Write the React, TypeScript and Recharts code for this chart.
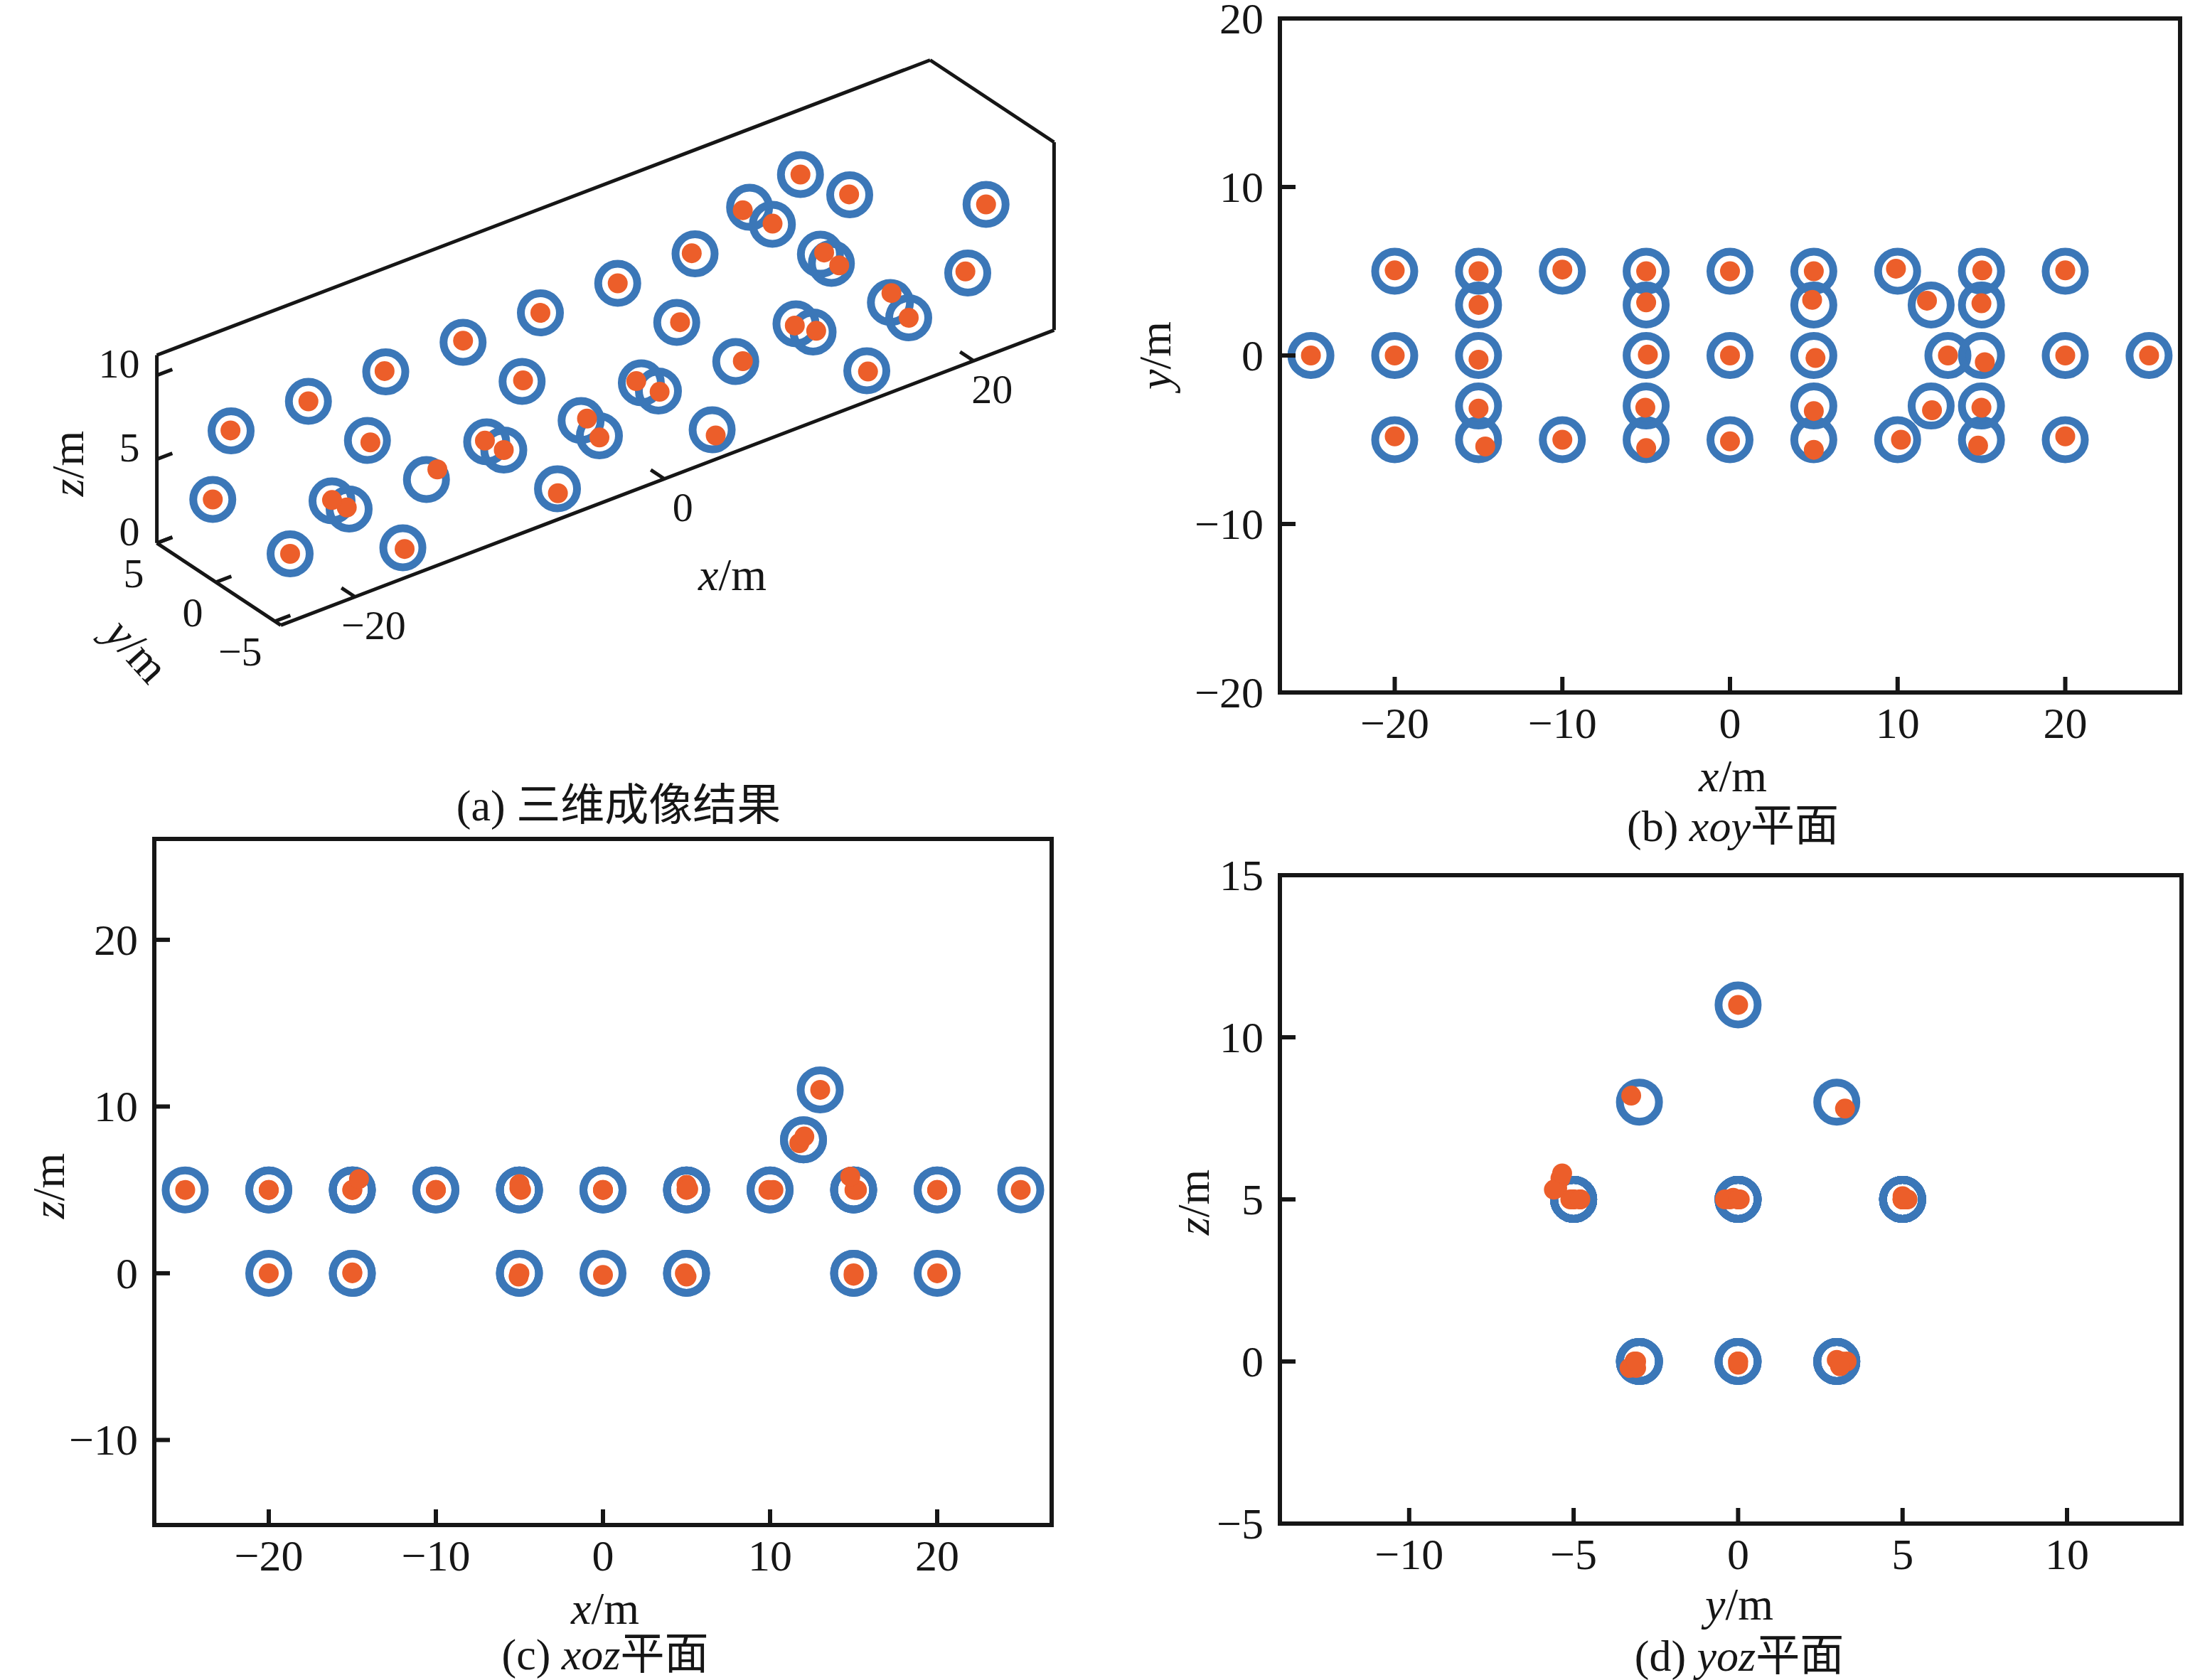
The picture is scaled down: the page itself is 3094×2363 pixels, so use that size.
import React from 'react';
import { ReferenceArea, ReferenceDot, ReferenceLine, Scatter, ScatterChart, XAxis, YAxis } from 'recharts';

// true scatterer positions (blue rings), metres
const TRUE_X = [-25, -20, -20, -20, -15, -15, -15, -15, -15, -10, -10, -5, -5, -5, -5, -5, 0, 0, 0, 5, 5, 5, 5, 5, 10, 10, 12, 12, 13, 15, 15, 15, 15, 15, 20, 20, 20, 25];
const TRUE_Y = [0, 5, -5, 0, 5, 0, -5, 3, -3, 5, -5, 5, 0, -5, 3, -3, 5, -5, 0, 5, -5, 0, 3, -3, 5, -5, 3, -3, 0, 5, 0, -5, 3, -3, 5, -5, 0, 0];
const TRUE_Z = [5, 5, 5, 0, 5, 5, 5, 0, 0, 5, 5, 5, 5, 5, 0, 0, 5, 5, 0, 5, 5, 5, 0, 0, 5, 5, 8, 8, 11, 5, 5, 5, 0, 0, 5, 5, 0, 5];

// imaged positions (orange dots)
const EST_X = [-25, -20, -20, -20, -15, -15, -14.6, -15, -15, -10, -10, -5, -4.9, -5, -5, -5.05, 0, 0, 0, 5, 5, 5.1, 4.9, 5, 9.9, 10.2, 11.75, 12.05, 13, 15.05, 15.2, 14.8, 15, 15, 20, 20, 20, 25];
const EST_Y = [0, 5.05, -4.8, 0, 5, -0.25, -5.4, 3, -3.15, 5.1, -5, 5, 0.05, -5.5, 3.15, -3.1, 5, -5.1, 0, 5, -5.6, -0.15, 3.3, -3.3, 5.15, -5, 3.25, -3.25, 0, 5.05, -0.4, -5.35, 3.1, -3.1, 5.05, -4.8, 0, 0];
const EST_Z = [5, 5, 5, 0, 5, 5, 5.65, 0.05, 0, 5, 5, 5.1, 5, 5.35, 0, -0.2, 5, 5, -0.1, 5, 5.3, 5.05, 0, -0.2, 5, 5, 7.8, 8.2, 11, 5, 5, 5.8, -0.15, 0, 5, 5, 0, 5];

const X_TICKS = [-20, -10, 0, 10, 20];
const XOY_Y_TICKS = [-20, -10, 0, 10, 20];
const XOZ_Z_TICKS = [-10, 0, 10, 20];
const YOZ_Y_TICKS = [-10, -5, 0, 5, 10];
const YOZ_Z_TICKS = [-5, 0, 5, 10, 15];

const CUBE_X_TICKS = [-20, 0, 20];
const CUBE_Y_TICKS = [5, 0, -5];
const CUBE_Z_TICKS = [0, 5, 10];
const CUBE_X = [-24.8, 25.2];
const CUBE_Y = [-5.5, 5];
const CUBE_Z = [0, 11.2];

const BLUE = '#3b77b8';
const ORANGE = '#ec5e2a';
const INK = '#161616';
const SERIF = '"Liberation Serif", "Times New Roman", "Noto Sans CJK SC", serif';
const TICK_FONT = 62;
const CUBE_TICK_FONT = 58;
const LABEL_FONT = 64;
const CAPTION_FONT = 62;
const TICK_LEN = 22;

const targets = TRUE_X.map((x, i) => ({ x, y: TRUE_Y[i], z: TRUE_Z[i] }));
const results = EST_X.map((x, i) => ({ x, y: EST_Y[i], z: EST_Z[i] }));

const minus = (v: number) => String(v).replace('-', '\u2212');

const ring = (p: any) => <circle cx={p.cx} cy={p.cy} r={27.5} fill="none" stroke={BLUE} strokeWidth={11} />;
const dot = (p: any) => <circle cx={p.cx} cy={p.cy} r={14} fill={ORANGE} />;

const PAD_L = 170;
const PAD_T = 60;
const PAD_R = 40;
const PAD_B = 110;
const AXIS_W = 160;
const AXIS_H = 100;

function XTick(p: any) {
  return (
    <g>
      <line x1={p.x} y1={p.y} x2={p.x} y2={p.y - TICK_LEN} stroke={INK} strokeWidth={6} />
      <text x={p.x} y={p.y + 43} textAnchor="middle" dominantBaseline="central" fontSize={TICK_FONT} fontFamily={SERIF} fill={INK}>
        {minus(p.payload.value)}
      </text>
    </g>
  );
}

function YTick(p: any) {
  return (
    <g>
      <line x1={p.x} y1={p.y} x2={p.x + TICK_LEN} y2={p.y} stroke={INK} strokeWidth={6} />
      <text x={p.x - 23} y={p.y} textAnchor="end" dominantBaseline="central" fontSize={TICK_FONT} fontFamily={SERIF} fill={INK}>
        {minus(p.payload.value)}
      </text>
    </g>
  );
}

interface PlaneProps {
  frame: { left: number; top: number; width: number; height: number };
  xKey: 'x' | 'y';
  yKey: 'y' | 'z';
  xDomain: [number, number];
  yDomain: [number, number];
  xTicks: number[];
  yTicks: number[];
}

function PlanePanel({ frame, xKey, yKey, xDomain, yDomain, xTicks, yTicks }: PlaneProps) {
  const w = frame.width + PAD_L + PAD_R;
  const h = frame.height + PAD_T + PAD_B;
  return (
    <div style={{ position: 'absolute', left: frame.left - PAD_L, top: frame.top - PAD_T, width: w, height: h }}>
      <ScatterChart
        width={w}
        height={h}
        margin={{ top: PAD_T, right: PAD_R, bottom: PAD_B - AXIS_H, left: PAD_L - AXIS_W }}
      >
        <XAxis
          type="number"
          dataKey={xKey}
          domain={xDomain}
          ticks={xTicks}
          interval={0}
          allowDataOverflow
          axisLine={false}
          tickLine={false}
          tickSize={0}
          tickMargin={0}
          height={AXIS_H}
          tick={(p: any) => <XTick {...p} />}
        />
        <YAxis
          type="number"
          dataKey={yKey}
          domain={yDomain}
          ticks={yTicks}
          interval={0}
          allowDataOverflow
          axisLine={false}
          tickLine={false}
          tickSize={0}
          tickMargin={0}
          width={AXIS_W}
          tick={(p: any) => <YTick {...p} />}
        />
        <Scatter data={targets} shape={ring} isAnimationActive={false} />
        <Scatter data={results} shape={dot} isAnimationActive={false} />
        <ReferenceArea
          x1={xDomain[0]}
          x2={xDomain[1]}
          y1={yDomain[0]}
          y2={yDomain[1]}
          fill="none"
          fillOpacity={0}
          stroke={INK}
          strokeWidth={6}
          ifOverflow="visible"
        />
      </ScatterChart>
    </div>
  );
}

// oblique view of the 3-D scene: where one metre along each axis lands on screen
const VIEW_ORIGIN = [843, 613];
const VIEW_X = [21.75, -8.3];
const VIEW_Y = [-16.6, -11];
const VIEW_Z = [0, -23.6];
const CUBE_W = 1560;
const CUBE_H = 1100;

const project = (x: number, y: number, z: number) => ({
  x: VIEW_ORIGIN[0] + x * VIEW_X[0] + y * VIEW_Y[0] + z * VIEW_Z[0],
  y: VIEW_ORIGIN[1] + x * VIEW_X[1] + y * VIEW_Y[1] + z * VIEW_Z[1],
});

function CubePanel() {
  const ringPts = targets.map((p) => project(p.x, p.y, p.z));
  const dotPts = results.map((p) => project(p.x, p.y, p.z));
  const [x0, x1] = CUBE_X;
  const [y0, y1] = CUBE_Y;
  const [z0, z1] = CUBE_Z;
  const outline = [
    [x0, y1, z1],
    [x0, y1, z0],
    [x0, y0, z0],
    [x1, y0, z0],
    [x1, y0, z1],
    [x1, y1, z1],
    [x0, y1, z1],
  ].map(([a, b, c]) => project(a, b, c));

  const ticks = [
    ...CUBE_X_TICKS.map((v) => [project(v, y0, z0), project(v, y0 + 1.15, z0)]),
    ...CUBE_Y_TICKS.map((v) => [project(x0, v, z0), project(x0 + 1, v, z0)]),
    ...CUBE_Z_TICKS.map((v) => [project(x0, y1, v), project(x0 + 1, y1, v)]),
  ];

  const label = (dx: number, dy: number, anchor: string, text: string) => (p: any) => (
    <text x={p.cx + dx} y={p.cy + dy} textAnchor={anchor} dominantBaseline="central" fontSize={CUBE_TICK_FONT} fontFamily={SERIF} fill={INK}>
      {text}
    </text>
  );

  return (
    <div style={{ position: 'absolute', left: 0, top: 0, width: CUBE_W, height: CUBE_H }}>
      <ScatterChart width={CUBE_W} height={CUBE_H} margin={{ top: 0, right: 0, bottom: 0, left: 0 }}>
        <XAxis type="number" dataKey="x" domain={[0, CUBE_W]} hide allowDataOverflow height={0} />
        <YAxis type="number" dataKey="y" domain={[0, CUBE_H]} reversed hide allowDataOverflow width={0} />
        {outline.slice(1).map((p, i) => (
          <ReferenceLine key={`e${i}`} segment={[outline[i], p]} stroke={INK} strokeWidth={5} ifOverflow="visible" />
        ))}
        {ticks.map((s, i) => (
          <ReferenceLine key={`t${i}`} segment={s} stroke={INK} strokeWidth={5} ifOverflow="visible" />
        ))}
        <Scatter data={ringPts} shape={ring} isAnimationActive={false} />
        <Scatter data={dotPts} shape={dot} isAnimationActive={false} />
        {CUBE_X_TICKS.map((v) => {
          const p = project(v, y0, z0);
          return <ReferenceDot key={`xl${v}`} x={p.x} y={p.y} r={0} ifOverflow="visible" shape={label(26, 40, 'middle', minus(v))} />;
        })}
        {CUBE_Y_TICKS.map((v) => {
          const p = project(x0, v, z0);
          return <ReferenceDot key={`yl${v}`} x={p.x} y={p.y} r={0} ifOverflow="visible" shape={label(-18, 43, 'end', minus(v))} />;
        })}
        {CUBE_Z_TICKS.map((v) => {
          const p = project(x0, y1, v);
          return <ReferenceDot key={`zl${v}`} x={p.x} y={p.y} r={0} ifOverflow="visible" shape={label(-24, -16, 'end', minus(v))} />;
        })}
      </ScatterChart>
    </div>
  );
}

function AxisLabel({ x, y, v, rotate = 0, size = LABEL_FONT }: { x: number; y: number; v: string; rotate?: number; size?: number }) {
  return (
    <text
      x={x}
      y={y}
      textAnchor="middle"
      dominantBaseline="central"
      fontSize={size}
      fontFamily={SERIF}
      fill={INK}
      transform={rotate ? `rotate(${rotate} ${x} ${y})` : undefined}
    >
      <tspan fontStyle="italic">{v}</tspan>/m
    </text>
  );
}

function Caption({ x, y, tag, plane, rest }: { x: number; y: number; tag: string; plane?: string; rest: string }) {
  return (
    <text x={x} y={y} textAnchor="middle" dominantBaseline="central" fontSize={CAPTION_FONT} fontFamily={SERIF} fill={INK}>
      {tag}
      {plane ? <tspan fontStyle="italic">{plane}</tspan> : null}
      {rest}
    </text>
  );
}

export default function App() {
  return (
    <div style={{ position: 'absolute', left: 0, top: 0, width: 3094, height: 2363, background: '#fff', overflow: 'hidden' }}>
      <CubePanel />
      <PlanePanel
        frame={{ left: 1800, top: 26, width: 1266, height: 948 }}
        xKey="x"
        yKey="y"
        xDomain={[-26.85, 26.85]}
        yDomain={[-20, 20]}
        xTicks={X_TICKS}
        yTicks={XOY_Y_TICKS}
      />
      <PlanePanel
        frame={{ left: 217, top: 1180, width: 1262, height: 965 }}
        xKey="x"
        yKey="z"
        xDomain={[-26.85, 26.85]}
        yDomain={[-15.1, 26.05]}
        xTicks={X_TICKS}
        yTicks={XOZ_Z_TICKS}
      />
      <PlanePanel
        frame={{ left: 1800, top: 1231, width: 1268, height: 912 }}
        xKey="y"
        yKey="z"
        xDomain={[-13.93, 13.48]}
        yDomain={[-5, 15]}
        xTicks={YOZ_Y_TICKS}
        yTicks={YOZ_Z_TICKS}
      />
      <svg width={3094} height={2363} style={{ position: 'absolute', left: 0, top: 0, pointerEvents: 'none' }}>
        <AxisLabel x={95} y={652} v="z" rotate={-90} />
        <AxisLabel x={193} y={915} v="y" rotate={48} />
        <AxisLabel x={1030} y={808} v="x" />
        <Caption x={870} y={1133} tag="(a) " rest="三维成像结果" />

        <AxisLabel x={2437} y={1091} v="x" />
        <AxisLabel x={1624} y={500} v="y" rotate={-90} />
        <Caption x={2437} y={1162} tag="(b) " plane="xoy" rest="平面" />

        <AxisLabel x={851} y={2262} v="x" />
        <AxisLabel x={68} y={1668} v="z" rotate={-90} />
        <Caption x={851} y={2327} tag="(c) " plane="xoz" rest="平面" />

        <AxisLabel x={2446} y={2256} v="y" />
        <AxisLabel x={1678} y={1691} v="z" rotate={-90} />
        <Caption x={2446} y={2329} tag="(d) " plane="yoz" rest="平面" />
      </svg>
    </div>
  );
}
